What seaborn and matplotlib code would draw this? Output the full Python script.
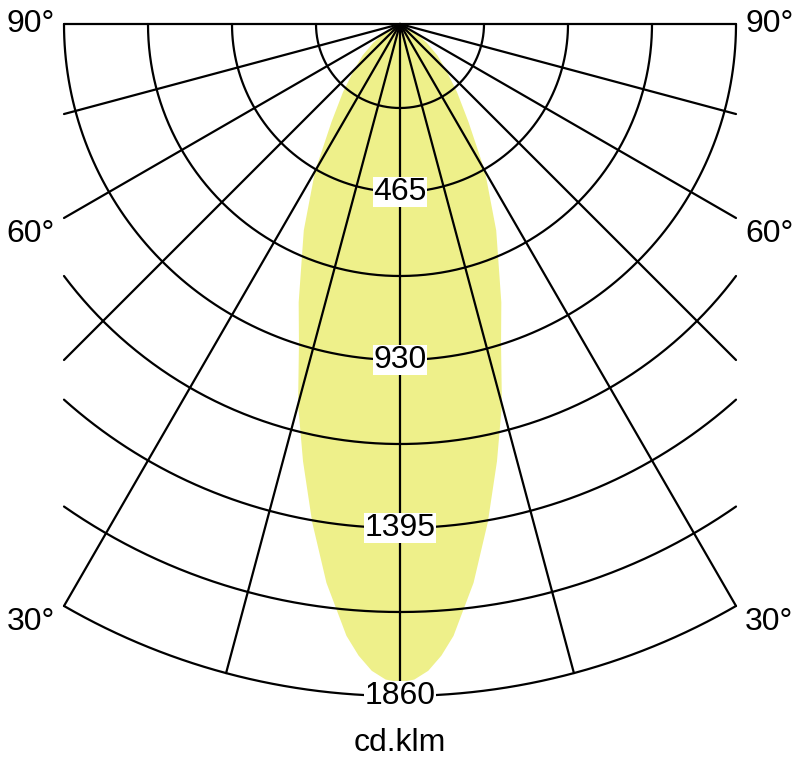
import numpy as np
import pandas as pd
import matplotlib
matplotlib.use("Agg")
import matplotlib.pyplot as plt
import seaborn as sns

# Luminous intensity distribution (cd/klm), angle from nadir in degrees
beam_angles = [0, 1.25, 2.5, 3.75, 5, 7.5, 10, 12.5, 15, 17.5, 20, 25, 30, 35, 40, 45, 50, 55, 60, 65, 70, 80, 90]
beam_values = [1822, 1815, 1792, 1752, 1700, 1560, 1400, 1240, 1090, 930, 820, 630, 470, 330, 245, 180, 135, 90, 50, 20, 0, 0, 0]

# Grid
ring_values = [232.5, 465, 697.5, 930, 1162.5, 1395, 1627.5, 1860]
ring_labels = [465, 930, 1395, 1860]
ray_angles = [-90, -75, -60, -45, -30, -15, 0, 15, 30, 45, 60, 75, 90]
side_angles = [90, 60, 30]
side_labels = ["90°", "60°", "30°"]
box_half = 930
unit_label = "cd.klm"

sns.set_style("white")
plt.rcParams["font.family"] = ["Liberation Sans", "DejaVu Sans"]
plt.rcParams["text.color"] = "black"

fig = plt.figure(figsize=(8, 7.6), dpi=100)
ax = fig.add_axes([0, 0, 1, 1])

# yellow beam, mirrored for both sides
th = np.radians(np.array(beam_angles))
r = np.array(beam_values)
th_all = np.concatenate([-th[::-1], th[1:]])
r_all = np.concatenate([r[::-1], r[1:]])
ax.fill(r_all * np.sin(th_all), -r_all * np.cos(th_all), color="#eef08a", lw=0, zorder=1)

# grid lines: rings clipped to the box, rays ending at the box or outer ring
rows = []
for i, rv in enumerate(ring_values):
    tmax = np.pi / 2 if rv <= box_half else np.arcsin(box_half / rv)
    t = np.linspace(-tmax, tmax, 300)
    for xx, yy in zip(rv * np.sin(t), -rv * np.cos(t)):
        rows.append(("ring%d" % i, xx, yy))
rmax = max(ring_values)
for a in ray_angles:
    t = np.radians(a)
    if abs(a) <= 30:
        length = rmax
    else:
        length = box_half / abs(np.sin(t))
    rows.append(("ray%d" % a, 0.0, 0.0))
    rows.append(("ray%d" % a, length * np.sin(t), -length * np.cos(t)))
grid = pd.DataFrame(rows, columns=["seg", "x", "y"])
sns.lineplot(data=grid, x="x", y="y", units="seg", estimator=None, sort=False,
             color="black", lw=1.6, ax=ax, zorder=2, legend=False)

# ring value labels
for v in ring_labels:
    ax.text(0, -v, str(v), ha="center", va="center", fontsize=23, zorder=3,
            bbox=dict(facecolor="white", edgecolor="none", pad=0.3))

# angle labels on both sides
for a, lab in zip(side_angles, side_labels):
    t = np.radians(a)
    if abs(a) <= 30:
        y_end = -rmax * np.cos(t)
    else:
        y_end = -box_half / np.tan(t)
    y_lab = y_end - (0 if a == 90 else 45)
    ax.text(-box_half - 25, y_lab, lab, ha="right", va="center", fontsize=23)
    ax.text(box_half + 25, y_lab, lab, ha="left", va="center", fontsize=23)

ax.text(0, -1990, unit_label, ha="center", va="center", fontsize=23)

scale = 672 / 1860
ax.set_xlim(-400 / scale, 400 / scale)
ax.set_ylim(-736 / scale, 24 / scale)
ax.set_aspect("equal")
ax.axis("off")

fig.savefig("out.png", dpi=100, facecolor="white")
